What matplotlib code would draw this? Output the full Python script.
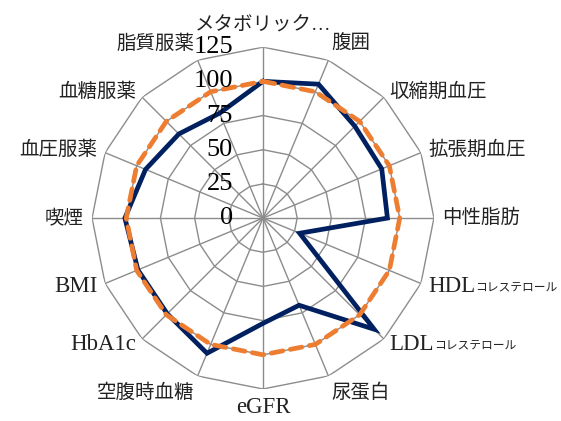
import numpy as np
import matplotlib
matplotlib.use("Agg")
import matplotlib.pyplot as plt
from matplotlib.transforms import offset_copy

# categories (clockwise from top)
labels = ['メタボリック…', '腹囲', '収縮期血圧', '拡張期血圧', '中性脂肪', 'HDL', 'LDL',
          '尿蛋白', 'eGFR', '空腹時血糖', 'HbA1c', 'BMI', '喫煙', '血圧服薬', '血糖服薬', '脂質服薬']
small_suffix = {'HDL': 'コレステロール', 'LDL': 'コレステロール'}

# series values
target = [100] * 16
actual = [100, 106, 95, 94, 91, 29, 115, 69, 77, 107, 99, 99, 101, 93, 87, 83]

rings = [0, 25, 50, 75, 100, 125]

fonts = ['Liberation Serif', 'Noto Sans CJK JP', 'DejaVu Sans']
plt.rcParams['font.family'] = fonts

fig = plt.figure(figsize=(5.61, 4.21), dpi=100)
ax = fig.add_axes([0.164, 0.076, 0.6096, 0.812], projection='polar')
ax.set_theta_offset(np.pi / 2)
ax.set_theta_direction(-1)

n = len(labels)
angles = np.arange(n) * 2 * np.pi / n
closed = np.append(angles, angles[0])

# polygon grid
for r in rings[1:]:
    ax.plot(closed, [r] * (n + 1), color='#8c8c8c', lw=1.0, zorder=1)
for a in angles:
    ax.plot([a, a], [0, rings[-1]], color='#8c8c8c', lw=1.0, zorder=1)

ax.plot(closed, actual + actual[:1], color='#002060', lw=3.4, zorder=3,
        solid_joinstyle='miter')
ax.plot(closed, target + target[:1], color='#ED7D31', lw=3.4, zorder=4,
        linestyle=(0, (2.5, 1.6)), dash_capstyle='round')

ax.set_ylim(0, rings[-1])
ax.set_xticks([])
ax.set_yticks([])
ax.grid(False)
ax.spines['polar'].set_visible(False)
ax.patch.set_visible(False)

# radial tick labels
tr = offset_copy(ax.transData, fig=fig, x=-30, y=0, units='dots')
for r in rings:
    ax.text(0, r, str(r), transform=tr, ha='right', va='center',
            fontsize=19, color='black', zorder=5)

# category labels
for a, lab in zip(angles, labels):
    s, c = np.sin(a), np.cos(a)
    ha = 'left' if s > 0.1 else ('right' if s < -0.1 else 'center')
    va = 'bottom' if c > 0.8 else ('top' if c < -0.8 else 'center')
    size = 16.5 if lab.isascii() else 14
    rr = 134 if a == 0 else 131
    t = ax.text(a, rr, lab, ha=ha, va=va, fontsize=size, color='#222222')
    if lab in small_suffix:
        ax.annotate(small_suffix[lab], xy=(1, 0.12), xycoords=t, ha='left',
                    va='bottom', fontsize=8.5, color='#222222')

fig.savefig('out.png', dpi=100)
